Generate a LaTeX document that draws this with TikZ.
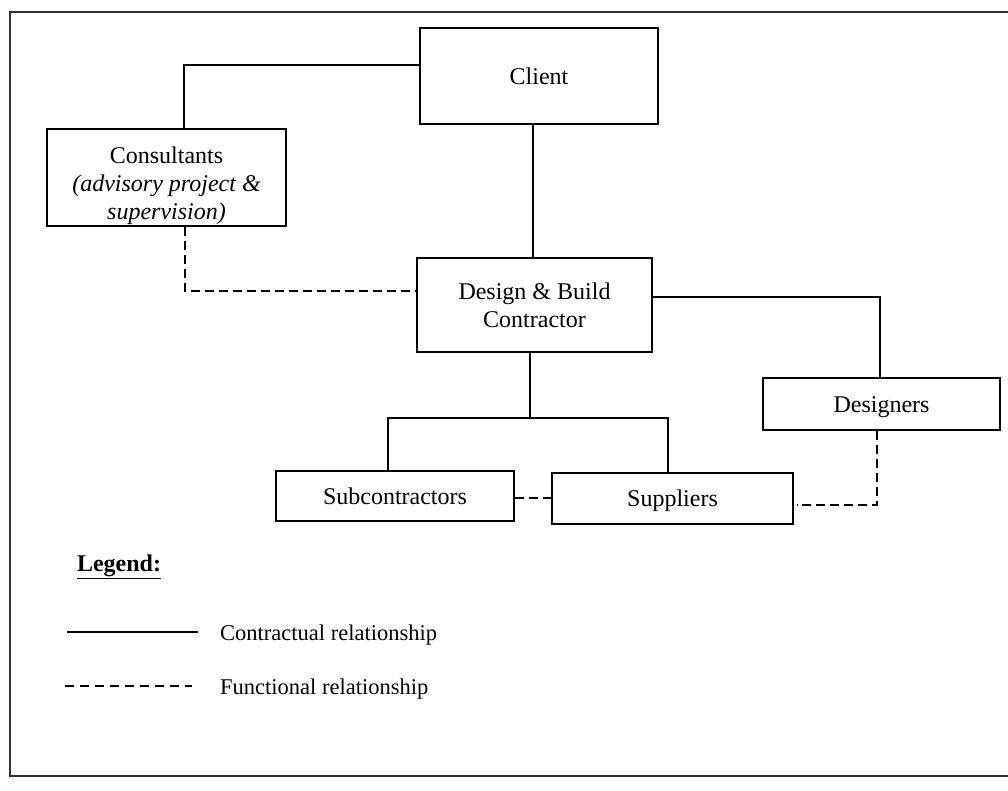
\documentclass[tikz,border=0pt]{standalone}
\usepackage{fontspec}
\setmainfont{Liberation Serif}
\begin{document}
\begin{tikzpicture}[x=1pt,y=-1pt,
  box/.style={draw, line width=1.3pt, inner sep=0pt, align=center, font=\fontsize{24}{28}\selectfont},
  onebox/.style={box, text height=20pt, text depth=4pt},
  con/.style={line width=1.4pt},
  fun/.style={line width=2.7pt, dash pattern=on 9pt off 5pt},
  legtext/.style={anchor=west, inner sep=0pt, font=\fontsize{22.5}{27}\selectfont}]
\useasboundingbox (0,0) rectangle (1008,790);
\fill[white] (0,0) rectangle (1008,790);
% frame
\draw[line width=1.4pt, black!80] (1020,12) -- (10,12) -- (10,776) -- (1020,776);
% boxes
\node[onebox, minimum width=238pt, minimum height=96pt] (Client) at (539,76) {Client};
\node[box, minimum width=239pt, minimum height=97pt] (Cons) at (166.5,177.5)
  {\rule{0pt}{33pt}Consultants\\\textit{(advisory project \&}\\\textit{supervision)}};
\node[box, minimum width=235pt, minimum height=94pt] (DBC) at (534.5,305) {Design \& Build\\Contractor};
\node[onebox, minimum width=237pt, minimum height=52pt] (Des) at (881.5,404) {Designers};
\node[onebox, minimum width=238pt, minimum height=50pt] (Sub) at (395,496) {Subcontractors};
\node[onebox, minimum width=241pt, minimum height=51pt] (Sup) at (672.5,498.5) {Suppliers};
% bend coordinates
\coordinate (c1) at (184,65);
\coordinate (c2) at (533,0);
\coordinate (c3) at (185,291);
\coordinate (c4) at (880,297);
\coordinate (c5) at (530,418);
\coordinate (c6) at (388,418);
\coordinate (c7) at (668,418);
\coordinate (c8) at (0,498);
\coordinate (c9) at (877,505);
\coordinate (c10) at (797,505);
% contractual
\draw[con] (Client.west |- c1) -- (c1) -- (Cons.north -| c1);
\draw[con] (Client.south -| c2) -- (DBC.north -| c2);
\draw[con] (DBC.east |- c4) -- (c4) -- (Des.north -| c4);
\draw[con] (DBC.south -| c5) -- (c5);
\draw[con] (Sub.north -| c6) -- (c6) -- (c7) -- (Sup.north -| c7);
% functional
\draw[fun] (Cons.south -| c3) -- (c3) -- (DBC.west |- c3);
\draw[fun] (Sub.east |- c8) -- (Sup.west |- c8);
\draw[fun] (Des.south -| c9) -- (c9) -- (c10);
% legend
\node[inner sep=0pt, font=\fontsize{24}{28}\selectfont\bfseries] (leg) at (119,567) {\underline{Legend:}};
\coordinate (l1a) at (67,632);
\coordinate (l1b) at (198,632);
\coordinate (l2a) at (65,686);
\coordinate (l2b) at (192,686);
\draw[line width=1.6pt] (l1a) -- (l1b);
\draw[line width=1.5pt, dash pattern=on 9pt off 6pt] (l2a) -- (l2b);
\node[legtext] (t1) at (220,635) {Contractual relationship};
\node[legtext] (t2) at (220,689) {Functional relationship};
\end{tikzpicture}
\end{document}
